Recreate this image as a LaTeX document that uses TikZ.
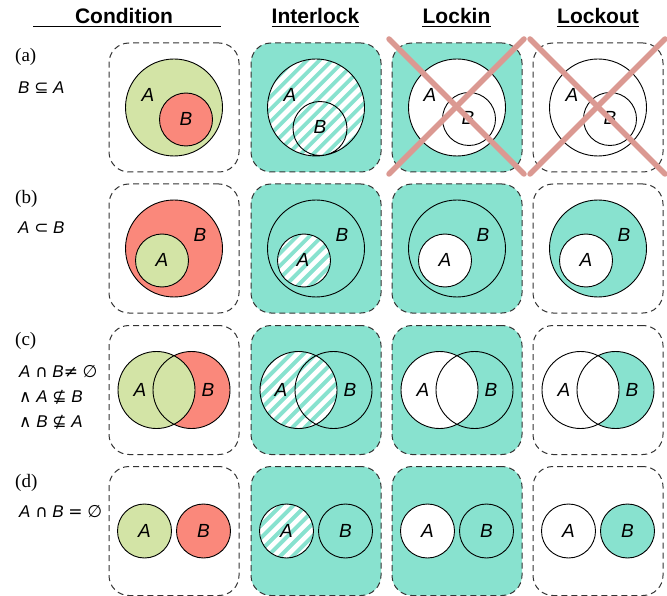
\documentclass[tikz,border=0pt]{standalone}
\usepackage{fontspec}
\setmainfont{Liberation Serif}
\newfontfamily\hdfont{Liberation Sans}
\newfontfamily\lbfont{Liberation Sans}
\newfontfamily\symfont{DejaVu Sans}
\definecolor{tealc}{HTML}{88E2CF}
\definecolor{grnc}{HTML}{D3E4A6}
\definecolor{redc}{HTML}{FA887B}
\definecolor{crossc}{HTML}{DB9992}
\definecolor{dashc}{HTML}{333333}
\newcommand{\sy}[1]{{\symfont #1}}
\newcommand{\hatchdisk}[3]{%
  \begin{scope}
    \clip (#1,#2) circle (#3pt);
    \fill[tealc] (#1,#2) circle (#3pt);
    \foreach \k in {-8,...,8}{\draw[white,line width=4.6pt] ({#1+\k*12.5-70},{#2+70}) -- ({#1+\k*12.5+70},{#2-70});}
  \end{scope}}
\tikzset{
  panel/.style={rectangle, rounded corners=20pt, minimum width=130pt, minimum height=129pt, inner sep=0pt, draw=dashc, line width=1pt, dash pattern=on 6pt off 4pt},
  wpanel/.style={panel, fill=white},
  tpanel/.style={panel, fill=tealc},
  ring/.style={draw=black, line width=0.9pt},
  lbl/.style={font=\fontsize{19}{19}\selectfont\lbfont\itshape, inner sep=0pt},
  hdr/.style={font=\fontsize{21}{21}\selectfont\hdfont\bfseries, inner sep=0pt, anchor=base},
  rowtag/.style={font=\fontsize{19}{19}\selectfont, inner sep=0pt, anchor=base west},
  cond/.style={font=\fontsize{17}{17}\selectfont\lbfont, inner sep=0pt, anchor=base west},
  vetoline/.style={draw=crossc, line width=5.5pt, line cap=round},
  uline/.style={line width=1.8pt}
}
\begin{document}
\begin{tikzpicture}[x=1pt,y=-1pt]
\useasboundingbox (0,0) rectangle (667,596);
% headers
\node[hdr] (hcond) at (124,24) {Condition};
\node[hdr] (hint) at (315.5,24) {Interlock};
\node[hdr] (hin) at (456.5,24) {Lockin};
\node[hdr] (hout) at (598,24) {Lockout};
\coordinate (ulA) at (33,26.5);
\coordinate (ulB) at (221,26.5);
\draw[uline] (ulA) -- (ulB);
\draw[uline] ([yshift=-2.5pt]hint.base west) -- ([yshift=-2.5pt]hint.base east);
\draw[uline] ([yshift=-2.5pt]hin.base west) -- ([yshift=-2.5pt]hin.base east);
\draw[uline] ([yshift=-2.5pt]hout.base west) -- ([yshift=-2.5pt]hout.base east);
% row tags and conditions
\node[rowtag] (ta) at (15,62) {(a)};
\node[rowtag] (tb) at (15,204) {(b)};
\node[rowtag] (tc) at (15,345) {(c)};
\node[rowtag] (td) at (15,487) {(d)};
\node[cond] (ca) at (18,94) {\textit{B} \sy{⊆} \textit{A}};
\node[cond] (cb) at (18,234) {\textit{A} \sy{⊂} \textit{B}};
\node[cond] (cc1) at (19,377) {\textit{A} \sy{∩} \textit{B}\sy{≠} \sy{\itshape ∅}};
\node[cond] (cc2) at (19,402) {\sy{∧} \textit{A} \sy{⊈} \textit{B}};
\node[cond] (cc3) at (19,427) {\sy{∧} \textit{B} \sy{⊈} \textit{A}};
\node[cond] (cd) at (19,517) {\textit{A} \sy{∩} \textit{B} \sy{=} \sy{\itshape ∅}};
% panels
\node[wpanel] (p11) at (174,107.5) {};
\node[tpanel] (p12) at (316,107.5) {};
\node[tpanel] (p13) at (457,107.5) {};
\node[wpanel] (p14) at (598,107.5) {};
\node[wpanel] (p21) at (174,248.5) {};
\node[tpanel] (p22) at (316,248.5) {};
\node[tpanel] (p23) at (457,248.5) {};
\node[wpanel] (p24) at (598,248.5) {};
\node[wpanel] (p31) at (174,390) {};
\node[tpanel] (p32) at (316,390) {};
\node[tpanel] (p33) at (457,390) {};
\node[wpanel] (p34) at (598,390) {};
\node[wpanel] (p41) at (174,531) {};
\node[tpanel] (p42) at (316,531) {};
\node[tpanel] (p43) at (457,531) {};
\node[wpanel] (p44) at (598,531) {};
% ---- row a
\fill[grnc] (174,107.5) circle (48.5pt);
\fill[redc] (186,119.5) circle (26.5pt);
\draw[ring] (174,107.5) circle (48.5pt) (186,119.5) circle (26.5pt);
\node[lbl] (a11) at (148,95) {A};
\node[lbl] (b11) at (186,119) {B};
\hatchdisk{316}{107.5}{48.5}
\draw[ring] (316,107.5) circle (48.5pt) (320,128.5) circle (27pt);
\node[lbl] (a12) at (290,95) {A};
\node[lbl] (b12) at (320,127) {B};
\fill[white] (457,107.5) circle (48.5pt);
\draw[ring] (457,107.5) circle (48.5pt) (469,119) circle (26.5pt);
\node[lbl] (a13) at (430,95) {A};
\node[lbl] (b13) at (468,118) {B};
\draw[ring] (598,107.5) circle (48.5pt) (610,119) circle (26.5pt);
\node[lbl] (a14) at (572,95) {A};
\node[lbl] (b14) at (610,118) {B};
% ---- row b
\fill[redc] (174,248.5) circle (48.5pt);
\fill[grnc] (162,260.5) circle (26.5pt);
\draw[ring] (174,248.5) circle (48.5pt) (162,260.5) circle (26.5pt);
\node[lbl] (b21) at (200,235) {B};
\node[lbl] (a21) at (162,260) {A};
\hatchdisk{304}{260.5}{26.5}
\draw[ring] (316,248.5) circle (48.5pt) (304,260.5) circle (26.5pt);
\node[lbl] (b22) at (342,235) {B};
\node[lbl] (a22) at (303,260) {A};
\fill[white] (445,260.5) circle (26.5pt);
\draw[ring] (457,248.5) circle (48.5pt) (445,260.5) circle (26.5pt);
\node[lbl] (b23) at (483,235) {B};
\node[lbl] (a23) at (445,260) {A};
\fill[tealc] (598,248.5) circle (48.5pt);
\fill[white] (586,260.5) circle (26.5pt);
\draw[ring] (598,248.5) circle (48.5pt) (586,260.5) circle (26.5pt);
\node[lbl] (b24) at (624,235) {B};
\node[lbl] (a24) at (586,260) {A};
% ---- row c
\fill[redc] (191.5,390) circle (38.5pt);
\fill[grnc] (156.5,390) circle (38.5pt);
\draw[ring] (156.5,390) circle (38.5pt) (191.5,390) circle (38.5pt);
\node[lbl] (a31) at (140,390) {A};
\node[lbl] (b31) at (208,390) {B};
\hatchdisk{298.5}{390}{38.5}
\draw[ring] (298.5,390) circle (38.5pt) (333.5,390) circle (38.5pt);
\node[lbl] (a32) at (281,390) {A};
\node[lbl] (b32) at (350,390) {B};
\fill[white] (439.5,390) circle (38.5pt);
\draw[ring] (439.5,390) circle (38.5pt) (474.5,390) circle (38.5pt);
\node[lbl] (a33) at (423,390) {A};
\node[lbl] (b33) at (491,390) {B};
\fill[tealc] (615.5,390) circle (38.5pt);
\fill[white] (580.5,390) circle (38.5pt);
\draw[ring] (580.5,390) circle (38.5pt) (615.5,390) circle (38.5pt);
\node[lbl] (a34) at (564,390) {A};
\node[lbl] (b34) at (632,390) {B};
% ---- row d
\fill[grnc] (144.5,531) circle (27pt);
\fill[redc] (203.5,531) circle (27pt);
\draw[ring] (144.5,531) circle (27pt) (203.5,531) circle (27pt);
\node[lbl] (a41) at (144.5,531) {A};
\node[lbl] (b41) at (203.5,531) {B};
\hatchdisk{286.5}{531}{27}
\draw[ring] (286.5,531) circle (27pt) (345.5,531) circle (27pt);
\node[lbl] (a42) at (286.5,531) {A};
\node[lbl] (b42) at (345.5,531) {B};
\fill[white] (427.5,531) circle (27pt);
\draw[ring] (427.5,531) circle (27pt) (486.5,531) circle (27pt);
\node[lbl] (a43) at (427.5,531) {A};
\node[lbl] (b43) at (486.5,531) {B};
\fill[tealc] (627.5,531) circle (27pt);
\draw[ring] (568.5,531) circle (27pt) (627.5,531) circle (27pt);
\node[lbl] (a44) at (568.5,531) {A};
\node[lbl] (b44) at (627.5,531) {B};
% ---- crosses
\coordinate (x1a) at (389,39);
\coordinate (x1b) at (524,174);
\coordinate (x1c) at (524,39);
\coordinate (x1d) at (389,174);
\coordinate (x2a) at (530,39);
\coordinate (x2b) at (665,174);
\coordinate (x2c) at (665,39);
\coordinate (x2d) at (530,174);
\draw[vetoline] (x1a) -- (x1b);
\draw[vetoline] (x1c) -- (x1d);
\draw[vetoline] (x2a) -- (x2b);
\draw[vetoline] (x2c) -- (x2d);
\end{tikzpicture}
\end{document}
